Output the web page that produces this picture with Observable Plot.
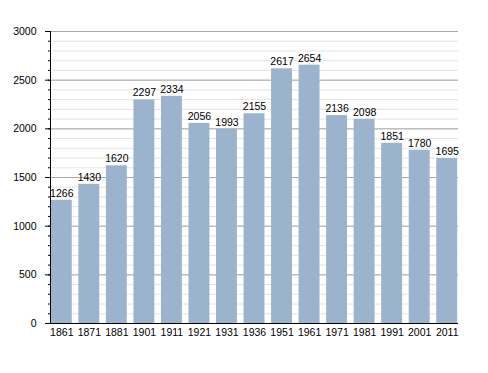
<!DOCTYPE html>
<html>
<head>
<meta charset="utf-8">
<script src="https://cdn.jsdelivr.net/npm/d3@7"></script>
<script src="https://cdn.jsdelivr.net/npm/@observablehq/plot@0.6"></script>
<style>
  body { margin: 0; background: #fff; }
</style>
</head>
<body>
<div id="chart"></div>
<script>
const years = ["1861","1871","1881","1901","1911","1921","1931","1936","1951","1961","1971","1981","1991","2001","2011"];
const population = [1266,1430,1620,2297,2334,2056,1993,2155,2617,2654,2136,2098,1851,1780,1695];
const majorTicks = [0,500,1000,1500,2000,2500,3000];
const minorTicks = d3.range(0, 3001, 100);

const data = years.map((y, i) => ({year: y, value: population[i]}));

const chart = Plot.plot({
  width: 488,
  height: 373,
  marginLeft: 50,
  marginRight: 30,
  marginTop: 31,
  marginBottom: 50,
  style: {fontFamily: "'Liberation Sans', Arial, sans-serif", fontSize: "10.5px", color: "#000", background: "#fff"},
  x: {domain: years, paddingInner: 0.24, paddingOuter: 0.03, round: false, label: null},
  y: {domain: [0, 3000], label: null},
  marks: [
    Plot.gridY(minorTicks, {stroke: "#e3e3e3", strokeOpacity: 1}),
    Plot.gridY(majorTicks, {stroke: "#a8a8a8", strokeOpacity: 1}),
    Plot.barY(data, {x: "year", y: "value", fill: "#9bb3cd"}),
    Plot.text(data, {x: "year", y: "value", text: d => String(d.value), dy: -7, fill: "#000", fontSize: 10.5}),
    Plot.axisY(minorTicks, {tickSize: 2, text: null, label: null, stroke: "#000"}),
    Plot.axisY(majorTicks, {tickSize: 5, tickPadding: 9, tickFormat: "d", label: null, stroke: "#000", fill: "#000"}),
    Plot.axisX({tickSize: 0, tickPadding: 5, label: null, fill: "#000"}),
    Plot.frame({anchor: "left", stroke: "#000"}),
    Plot.ruleY([0], {stroke: "#000"})
  ]
});
document.getElementById("chart").appendChild(chart);
</script>
</body>
</html>
